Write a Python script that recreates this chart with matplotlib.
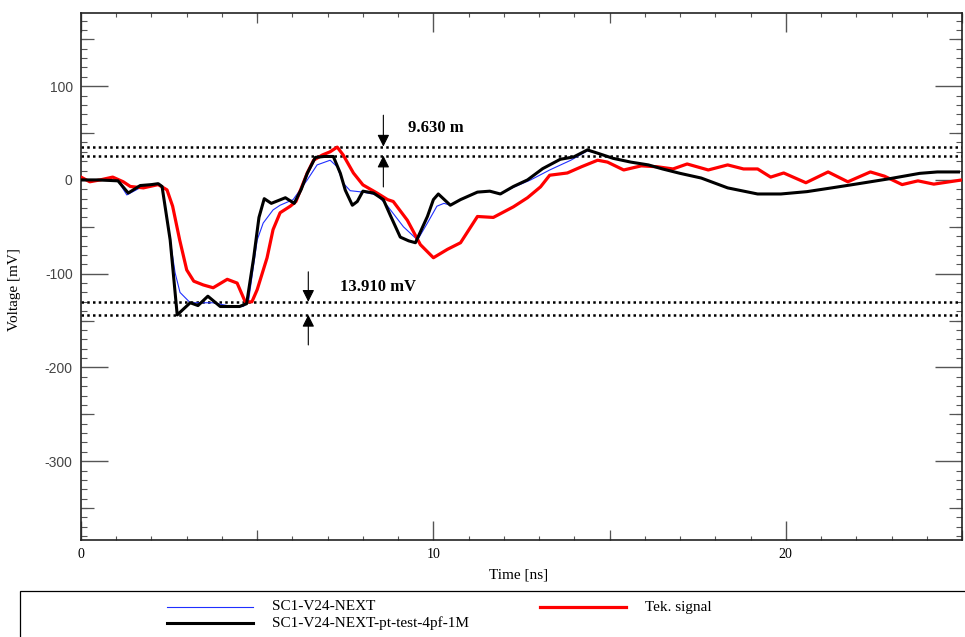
import matplotlib
matplotlib.use("Agg")
import matplotlib.pyplot as plt
from matplotlib.lines import Line2D
from matplotlib.patches import Rectangle
from matplotlib.ticker import MultipleLocator, FixedLocator, NullFormatter

plt.rcParams["axes.unicode_minus"] = False

# SC1-V24-NEXT (blue)
t_blue = [0, 0.5, 1.05, 1.3, 1.7, 2.0, 2.19, 2.3, 2.53, 2.67, 2.81, 3.1, 3.75, 4.15, 4.6,
          4.75, 5.0, 5.17, 5.45, 5.65, 6.02, 6.42, 6.7, 7.07, 7.27, 7.44, 7.64, 8.0, 8.4,
          8.7, 9.15, 9.55, 9.83, 10.1, 10.3, 10.48, 10.77, 11.25, 11.6, 11.9, 12.27, 12.76,
          13.3, 13.9, 14.37, 14.66, 15.1, 15.6, 16.1, 16.5, 17.0, 17.6, 18.35, 19.2, 19.86,
          20.6, 21.3, 21.9, 22.9, 23.8, 24.3, 24.9]
v_blue = [0, 0, -1, -16, -8, -6, -4, -7, -64, -99, -120, -131, -131, -134, -135,
          -130, -64, -46, -32, -27, -21, 0, 16, 21, 14, -3.5, -11.5, -13, -16,
          -28, -50, -64, -46, -28, -25, -27, -21, -13, -12, -15, -8, 0,
          10.6, 21, 31, 28.5, 23, 19, 16, 11.7, 7, 2, -8.5, -15, -15,
          -12.5, -8.5, -5, 1, 7, 8.5, 8.5]

# SC1-V24-NEXT-pt-test-4pf-1M (black)
t_black = [0, 0.5, 1.05, 1.34, 1.68, 2.0, 2.19, 2.3, 2.53, 2.73, 2.9, 3.1, 3.32, 3.6, 3.95,
           4.5, 4.7, 4.9, 5.05, 5.2, 5.4, 5.8, 6.05, 6.25, 6.42, 6.65, 6.9, 7.16, 7.36, 7.5,
           7.7, 7.84, 8.0, 8.3, 8.58, 8.78, 9.06, 9.3, 9.49, 9.83, 10.0, 10.14, 10.48, 10.77,
           11.25, 11.6, 11.9, 12.27, 12.67, 13.1, 13.6, 13.98, 14.37, 14.66, 15.1, 15.6, 16.1,
           16.5, 17.0, 17.6, 18.35, 19.2, 19.86, 20.6, 21.3, 21.9, 22.9, 23.8, 24.3, 24.9]
v_black = [0, 0, -1, -14, -6, -5, -4, -7, -64, -144, -138, -131, -134, -124, -135,
           -135, -132, -83, -40, -20, -25, -19, -25, -10, 7, 24, 25, 25, 7, -11,
           -27, -23, -12, -14, -21, -38, -61, -65, -67, -39, -21, -15, -27, -21,
           -13, -12, -15, -7, 0, 12, 22, 24.5, 32, 28.5, 23, 19, 16,
           11.7, 7, 2, -8.5, -15, -15, -12.5, -8.5, -5, 1, 7, 8.5, 8.5]

# Tek. signal (red)
t_red = [0, 0.25, 0.54, 0.9, 1.2, 1.4, 1.77, 2.19, 2.44, 2.6, 2.8, 3.0, 3.2, 3.47, 3.75,
         4.15, 4.43, 4.66, 4.85, 5.0, 5.28, 5.45, 5.65, 5.94, 6.1, 6.42, 6.6, 6.85, 7.07,
         7.27, 7.44, 7.73, 8.0, 8.4, 8.7, 8.86, 9.26, 9.63, 10.0, 10.4, 10.77, 11.25, 11.7,
         12.27, 12.67, 13.04, 13.3, 13.8, 14.2, 14.66, 14.94, 15.4, 15.9, 16.36, 16.8, 17.2,
         17.8, 18.35, 18.8, 19.2, 19.57, 19.94, 20.57, 21.2, 21.76, 22.4, 22.8, 23.3, 23.75,
         24.2, 25.0]
v_red = [3, -2, 0, 3, -2, -7, -8.5, -5, -10.6, -28, -64, -96, -108, -112, -115,
         -106, -110, -130, -130, -117, -83, -53, -35, -28, -23, 7.4, 21, 26.6, 30,
         35, 26.6, 7.4, -5.3, -14, -21, -23, -43, -69, -83, -74, -67, -39, -40,
         -28.7, -19, -7.4, 5, 7.4, 14, 21, 19, 10.6, 15, 14, 11.7, 17,
         10.6, 16, 11.7, 11.7, 3, 7.4, -3, 8.5, -2, 8.5, 4, -5, -1,
         -4.5, 0]

# cursor levels (mV) and where the measurement arrows sit (ns)
upper_cursors = [35.5, 25.9]
lower_cursors = [-130.0, -143.9]
upper_label = "9.630 m"
lower_label = "13.910 mV"
upper_t = 8.58
lower_t = 6.45

fig = plt.figure(figsize=(9.65, 6.37), dpi=100)
ax = fig.add_axes([81 / 965, 97 / 637, 881 / 965, 527 / 637])

ax.plot(t_blue, v_blue, color="#1f2fff", lw=0.8, zorder=3)
ax.plot(t_red, v_red, color="#ff0000", lw=2.3, zorder=4)
ax.plot(t_black, v_black, color="black", lw=2.2, zorder=5)

for y in upper_cursors + lower_cursors:
    ax.axhline(y, color="black", lw=1.8, ls=(0, (1, 1.3)), zorder=2)

arr = dict(arrowstyle="-|>", color="black", lw=0.8, mutation_scale=18, shrinkA=0, shrinkB=0)
ax.annotate("", xy=(upper_t, upper_cursors[0]), xytext=(upper_t, 69), arrowprops=arr)
ax.annotate("", xy=(upper_t, upper_cursors[1]), xytext=(upper_t, -7.5), arrowprops=arr)
ax.annotate("", xy=(lower_t, lower_cursors[0]), xytext=(lower_t, -98), arrowprops=arr)
ax.annotate("", xy=(lower_t, lower_cursors[1]), xytext=(lower_t, -176), arrowprops=arr)
ax.text(upper_t + 0.7, 55, upper_label, family="Liberation Serif", fontweight="bold",
        fontsize=12, va="center", ha="left")
ax.text(lower_t + 0.9, -114, lower_label, family="Liberation Serif", fontweight="bold",
        fontsize=12, va="center", ha="left")

ax.set_xlim(0, 25)
ax.set_ylim(-384, 178)

ax.xaxis.set_major_locator(MultipleLocator(10))
ax.xaxis.set_minor_locator(MultipleLocator(1))
ax.yaxis.set_major_locator(MultipleLocator(100))
ax.yaxis.set_minor_locator(MultipleLocator(10))
ax.tick_params(axis="both", which="both", direction="in", top=True, right=True,
               color="#555555")
ax.tick_params(axis="y", which="major", length=19.5, width=1.0, pad=6,
               labelsize=10, labelcolor="#444444")
ax.tick_params(axis="y", which="minor", length=4.3, width=0.8)
ax.tick_params(axis="x", which="major", length=14, width=1.0, pad=6, labelsize=10)
ax.tick_params(axis="x", which="minor", length=2.8, width=0.8)
for lab in ax.get_yticklabels():
    lab.set_family("Liberation Sans")
for lab in ax.get_xticklabels():
    lab.set_family("Liberation Serif")

# medium ticks at the half steps
for side in ["left", "right"]:
    sec = ax.secondary_yaxis(side)
    sec.yaxis.set_major_locator(FixedLocator([-350, -250, -150, -50, 50, 150]))
    sec.yaxis.set_major_formatter(NullFormatter())
    sec.tick_params(direction="in", length=9.4, width=0.9, color="#555555")
    sec.spines[side].set_visible(False)
for side in ["bottom", "top"]:
    sec = ax.secondary_xaxis(side)
    sec.xaxis.set_major_locator(FixedLocator([5, 15, 25]))
    sec.xaxis.set_major_formatter(NullFormatter())
    sec.tick_params(direction="in", length=7.2, width=0.9, color="#555555")
    sec.spines[side].set_visible(False)

for s in ax.spines.values():
    s.set_color("#222222")
    s.set_linewidth(1.2)

fig.text(519 / 965, 1 - 575 / 637, "Time [ns]", family="Liberation Serif",
         fontsize=11, ha="center", va="center")
fig.text(15 / 965, 1 - 290 / 637, "Voltage [mV]", family="Liberation Serif",
         fontsize=11, ha="center", va="center", rotation=90)

# legend box at the bottom
fig.add_artist(Rectangle((20 / 965, -0.01), 1.0, (637 - 591) / 637 + 0.01,
                         transform=fig.transFigure, fill=False, ec="black", lw=0.9))
legend_items = [("SC1-V24-NEXT", "#1f2fff", 0.8, 167, 607),
                ("SC1-V24-NEXT-pt-test-4pf-1M", "black", 2.2, 167, 623),
                ("Tek. signal", "#ff0000", 2.3, 540, 607)]
for name, col, lw, x0, y0 in legend_items:
    yy = 1 - y0 / 637
    fig.add_artist(Line2D([x0 / 965, (x0 + 86) / 965], [yy, yy], color=col, lw=lw,
                          transform=fig.transFigure))
    fig.text((x0 + 105) / 965, yy, name, family="Liberation Serif", fontsize=11,
             ha="left", va="center")

plt.savefig("out.png", dpi=100)
